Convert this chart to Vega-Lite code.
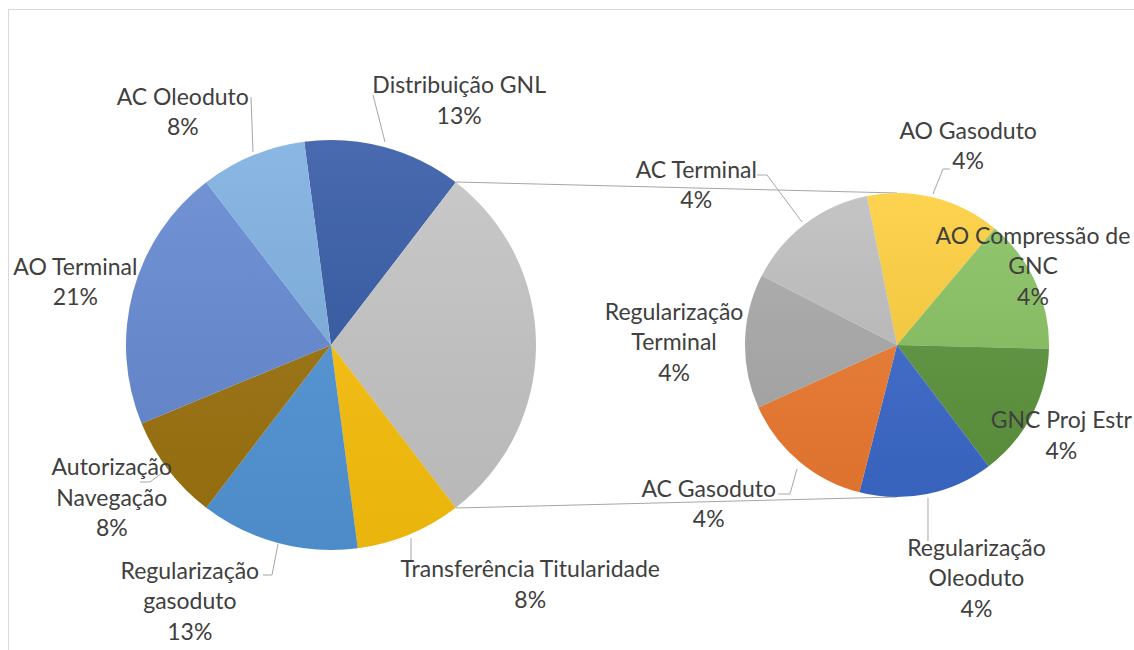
{
  "$schema": "https://vega.github.io/schema/vega-lite/v6.json",
  "width": 1212,
  "height": 672,
  "autosize": "none",
  "padding": {"left": 8, "top": 9, "right": 0, "bottom": 0},
  "background": "white",
  "config": {
    "view": {"stroke": "#D9D9D9", "fill": "white"},
    "text": {"font": "Lato", "fontSize": 23, "color": "#404040", "lineHeight": 30.5},
    "rule": {"color": "#A6A6A6", "strokeWidth": 1}
  },
  "datasets": {
    "principal": [
      {"grafico": "Principal", "categoria": "Distribuição GNL", "quantidade": 3, "ordem": 1, "rotulo": "Distribuição GNL\n13%"},
      {"grafico": "Principal", "categoria": "Outros", "quantidade": 7, "ordem": 2, "rotulo": ""},
      {"grafico": "Principal", "categoria": "Transferência Titularidade", "quantidade": 2, "ordem": 3, "rotulo": "Transferência Titularidade\n8%"},
      {"grafico": "Principal", "categoria": "Regularização gasoduto", "quantidade": 3, "ordem": 4, "rotulo": "Regularização\ngasoduto\n13%"},
      {"grafico": "Principal", "categoria": "Autorização Navegação", "quantidade": 2, "ordem": 5, "rotulo": "Autorização\nNavegação\n8%"},
      {"grafico": "Principal", "categoria": "AO Terminal", "quantidade": 5, "ordem": 6, "rotulo": "AO Terminal\n21%"},
      {"grafico": "Principal", "categoria": "AC Oleoduto", "quantidade": 2, "ordem": 7, "rotulo": "AC Oleoduto\n8%"}
    ],
    "secundario": [
      {"grafico": "Secundário", "categoria": "AO Gasoduto", "quantidade": 1, "ordem": 1, "rotulo": "AO Gasoduto\n4%"},
      {"grafico": "Secundário", "categoria": "AO Compressão de GNC", "quantidade": 1, "ordem": 2, "rotulo": "AO Compressão de\nGNC\n4%"},
      {"grafico": "Secundário", "categoria": "GNC Proj Estr", "quantidade": 1, "ordem": 3, "rotulo": "GNC Proj Estr\n4%"},
      {"grafico": "Secundário", "categoria": "Regularização Oleoduto", "quantidade": 1, "ordem": 4, "rotulo": "Regularização\nOleoduto\n4%"},
      {"grafico": "Secundário", "categoria": "AC Gasoduto", "quantidade": 1, "ordem": 5, "rotulo": "AC Gasoduto\n4%"},
      {"grafico": "Secundário", "categoria": "Regularização Terminal", "quantidade": 1, "ordem": 6, "rotulo": "Regularização\nTerminal\n4%"},
      {"grafico": "Secundário", "categoria": "AC Terminal", "quantidade": 1, "ordem": 7, "rotulo": "AC Terminal\n4%"}
    ],
    "conectores": [
      {"de": "Principal", "para": "Secundário", "lado": "topo"},
      {"de": "Principal", "para": "Secundário", "lado": "base"}
    ]
  },
  "encoding": {
    "x": {
      "field": "grafico",
      "type": "nominal",
      "axis": null,
      "scale": {"type": "point", "padding": 0.5707, "domain": ["Principal", "Secundário"]}
    }
  },
  "resolve": {"scale": {"theta": "independent"}},
  "layer": [
    {
      "data": {"name": "principal"},
      "layer": [
        {
          "mark": {"type": "arc", "outerRadius": 205},
          "encoding": {
            "theta": {"field": "quantidade", "type": "quantitative", "stack": true, "scale": {"range": [-0.1309, 6.1523]}},
            "order": {"field": "ordem", "type": "quantitative"},
            "color": {
              "field": "categoria",
              "type": "nominal",
              "legend": null,
              "scale": {
                "domain": ["Distribuição GNL", "Outros", "Transferência Titularidade", "Regularização gasoduto", "Autorização Navegação", "AO Terminal", "AC Oleoduto", "AO Gasoduto", "AO Compressão de GNC", "GNC Proj Estr", "Regularização Oleoduto", "AC Gasoduto", "Regularização Terminal", "AC Terminal"],
                "range": ["#3459A5", "#C5C5C5", "#FBC20C", "#5296D8", "#9D730F", "#6589D2", "#7DAFE0", "#FDCE3C", "#88C161", "#5D953D", "#3C6ACB", "#EE7B31", "#AAAAAA", "#BEBEBE"]
              }
            }
          }
        },
        {
          "transform": [{"aggregate": [{"op": "sum", "field": "quantidade", "as": "total"}], "groupby": ["grafico"]}],
          "mark": {
            "type": "arc",
            "outerRadius": 205,
            "fill": {"gradient": "linear", "x1": 0, "y1": 0, "x2": 0, "y2": 1, "stops": [{"offset": 0, "color": "rgba(255,255,255,0.10)"}, {"offset": 1, "color": "rgba(0,0,0,0.07)"}]}
          },
          "encoding": {
            "theta": {"field": "total", "type": "quantitative", "stack": true, "scale": {"range": [-0.1309, 6.1523]}}
          }
        },
        {
          "transform": [{"filter": "indexof(['Distribuição GNL','AC Oleoduto','Autorização Navegação','Regularização gasoduto','Transferência Titularidade'], datum.categoria) >= 0"}],
          "mark": {
            "type": "rule",
            "xOffset": {"expr": "datum.categoria === 'Distribuição GNL' ? 42 : datum.categoria === 'AC Oleoduto' ? -80 : datum.categoria === 'Autorização Navegação' ? -181 : datum.categoria === 'Regularização gasoduto' ? -59 : 80"},
            "yOffset": {"expr": "datum.categoria === 'Distribuição GNL' ? -250 : datum.categoria === 'AC Oleoduto' ? -248 : datum.categoria === 'Autorização Navegação' ? 137 : datum.categoria === 'Regularização gasoduto' ? 230 : 215"},
            "x2Offset": {"expr": "datum.categoria === 'Distribuição GNL' ? 54 : datum.categoria === 'AC Oleoduto' ? -78 : datum.categoria === 'Autorização Navegação' ? -169 : datum.categoria === 'Regularização gasoduto' ? -53 : 80"},
            "y2Offset": {"expr": "datum.categoria === 'Distribuição GNL' ? -203 : datum.categoria === 'AC Oleoduto' ? -193 : datum.categoria === 'Autorização Navegação' ? 128 : datum.categoria === 'Regularização gasoduto' ? 199 : 193"}
          },
          "encoding": {
            "x2": {"field": "grafico"},
            "y": {"datum": 0, "type": "quantitative", "axis": null, "scale": {"domain": [-1, 1]}},
            "y2": {"datum": 0}
          }
        },
        {
          "transform": [{"filter": "indexof(['Autorização Navegação','Regularização gasoduto'], datum.categoria) >= 0"}],
          "mark": {
            "type": "rule",
            "xOffset": {"expr": "datum.categoria === 'Autorização Navegação' ? -191 : -68"},
            "yOffset": {"expr": "datum.categoria === 'Autorização Navegação' ? 137 : 230"},
            "x2Offset": {"expr": "datum.categoria === 'Autorização Navegação' ? -181 : -59"},
            "y2Offset": {"expr": "datum.categoria === 'Autorização Navegação' ? 137 : 230"}
          },
          "encoding": {
            "x2": {"field": "grafico"},
            "y": {"datum": 0, "type": "quantitative", "axis": null, "scale": {"domain": [-1, 1]}},
            "y2": {"datum": 0}
          }
        },
        {
          "mark": {
            "type": "text",
            "radius": 275,
            "lineBreak": "\n",
            "align": "center",
            "baseline": "middle",
            "dx": {"expr": "datum.categoria === 'Distribuição GNL' ? 57 : datum.categoria === 'Transferência Titularidade' ? 94 : datum.categoria === 'Regularização gasoduto' ? -70 : datum.categoria === 'Autorização Navegação' ? -1 : datum.categoria === 'AO Terminal' ? 10 : datum.categoria === 'AC Oleoduto' ? -43 : 0"},
            "dy": {"expr": "datum.categoria === 'Distribuição GNL' ? 7 : datum.categoria === 'Transferência Titularidade' ? -29 : datum.categoria === 'Regularização gasoduto' ? -39 : datum.categoria === 'Autorização Navegação' ? -44 : datum.categoria === 'AO Terminal' ? -6 : datum.categoria === 'AC Oleoduto' ? 7 : 0"}
          },
          "encoding": {
            "theta": {"field": "quantidade", "type": "quantitative", "stack": true, "scale": {"range": [-0.1309, 6.1523]}},
            "order": {"field": "ordem", "type": "quantitative"},
            "text": {"field": "rotulo", "type": "nominal"}
          }
        }
      ]
    },
    {
      "data": {"name": "conectores"},
      "mark": {
        "type": "rule",
        "xOffset": 125,
        "yOffset": {"expr": "datum.lado === 'topo' ? -163 : 163"},
        "x2Offset": 0,
        "y2Offset": {"expr": "datum.lado === 'topo' ? -152 : 152"}
      },
      "encoding": {
        "x": {"field": "de", "type": "nominal"},
        "x2": {"field": "para"},
        "y": {"datum": 0, "type": "quantitative", "axis": null, "scale": {"domain": [-1, 1]}},
        "y2": {"datum": 0}
      }
    },
    {
      "data": {"name": "secundario"},
      "layer": [
        {
          "mark": {"type": "arc", "outerRadius": 152},
          "encoding": {
            "theta": {"field": "quantidade", "type": "quantitative", "stack": true, "scale": {"range": [-0.199, 6.0842]}},
            "order": {"field": "ordem", "type": "quantitative"},
            "color": {
              "field": "categoria",
              "type": "nominal",
              "legend": null,
              "scale": {
                "domain": ["Distribuição GNL", "Outros", "Transferência Titularidade", "Regularização gasoduto", "Autorização Navegação", "AO Terminal", "AC Oleoduto", "AO Gasoduto", "AO Compressão de GNC", "GNC Proj Estr", "Regularização Oleoduto", "AC Gasoduto", "Regularização Terminal", "AC Terminal"],
                "range": ["#3459A5", "#C5C5C5", "#FBC20C", "#5296D8", "#9D730F", "#6589D2", "#7DAFE0", "#FDCE3C", "#88C161", "#5D953D", "#3C6ACB", "#EE7B31", "#AAAAAA", "#BEBEBE"]
              }
            }
          }
        },
        {
          "transform": [{"aggregate": [{"op": "sum", "field": "quantidade", "as": "total"}], "groupby": ["grafico"]}],
          "mark": {
            "type": "arc",
            "outerRadius": 152,
            "fill": {"gradient": "linear", "x1": 0, "y1": 0, "x2": 0, "y2": 1, "stops": [{"offset": 0, "color": "rgba(255,255,255,0.10)"}, {"offset": 1, "color": "rgba(0,0,0,0.07)"}]}
          },
          "encoding": {
            "theta": {"field": "total", "type": "quantitative", "stack": true, "scale": {"range": [-0.199, 6.0842]}}
          }
        },
        {
          "transform": [{"filter": "indexof(['AC Terminal','AO Gasoduto','AC Gasoduto','Regularização Oleoduto'], datum.categoria) >= 0"}],
          "mark": {
            "type": "rule",
            "xOffset": {"expr": "datum.categoria === 'AC Terminal' ? -130 : datum.categoria === 'AO Gasoduto' ? 46 : datum.categoria === 'AC Gasoduto' ? -107 : 31"},
            "yOffset": {"expr": "datum.categoria === 'AC Terminal' ? -170 : datum.categoria === 'AO Gasoduto' ? -176 : datum.categoria === 'AC Gasoduto' ? 149 : 196"},
            "x2Offset": {"expr": "datum.categoria === 'AC Terminal' ? -95 : datum.categoria === 'AO Gasoduto' ? 36 : datum.categoria === 'AC Gasoduto' ? -100 : 31"},
            "y2Offset": {"expr": "datum.categoria === 'AC Terminal' ? -123 : datum.categoria === 'AO Gasoduto' ? -151 : datum.categoria === 'AC Gasoduto' ? 124 : 153"}
          },
          "encoding": {
            "x2": {"field": "grafico"},
            "y": {"datum": 0, "type": "quantitative", "axis": null, "scale": {"domain": [-1, 1]}},
            "y2": {"datum": 0}
          }
        },
        {
          "transform": [{"filter": "indexof(['AC Terminal','AO Gasoduto','AC Gasoduto'], datum.categoria) >= 0"}],
          "mark": {
            "type": "rule",
            "xOffset": {"expr": "datum.categoria === 'AC Terminal' ? -140 : datum.categoria === 'AO Gasoduto' ? 53 : -119"},
            "yOffset": {"expr": "datum.categoria === 'AC Terminal' ? -170 : datum.categoria === 'AO Gasoduto' ? -176 : 149"},
            "x2Offset": {"expr": "datum.categoria === 'AC Terminal' ? -130 : datum.categoria === 'AO Gasoduto' ? 46 : -107"},
            "y2Offset": {"expr": "datum.categoria === 'AC Terminal' ? -170 : datum.categoria === 'AO Gasoduto' ? -176 : 149"}
          },
          "encoding": {
            "x2": {"field": "grafico"},
            "y": {"datum": 0, "type": "quantitative", "axis": null, "scale": {"domain": [-1, 1]}},
            "y2": {"datum": 0}
          }
        },
        {
          "mark": {
            "type": "text",
            "radius": 215,
            "lineBreak": "\n",
            "align": "center",
            "baseline": "middle",
            "dx": {"expr": "datum.categoria === 'AO Gasoduto' ? 18 : datum.categoria === 'AO Compressão de GNC' ? -60 : datum.categoria === 'GNC Proj Estr' ? -27 : datum.categoria === 'Regularização Oleoduto' ? 37 : datum.categoria === 'AC Gasoduto' ? -50 : datum.categoria === 'Regularização Terminal' ? -8 : datum.categoria === 'AC Terminal' ? -71 : 0"},
            "dy": {"expr": "datum.categoria === 'AO Gasoduto' ? -5 : datum.categoria === 'AO Compressão de GNC' ? -20 : datum.categoria === 'GNC Proj Estr' ? -22 : datum.categoria === 'Regularização Oleoduto' ? -7 : datum.categoria === 'AC Gasoduto' ? -20 : datum.categoria === 'Regularização Terminal' ? -27 : datum.categoria === 'AC Terminal' ? -3 : 0"}
          },
          "encoding": {
            "theta": {"field": "quantidade", "type": "quantitative", "stack": true, "scale": {"range": [-0.199, 6.0842]}},
            "order": {"field": "ordem", "type": "quantitative"},
            "text": {"field": "rotulo", "type": "nominal"}
          }
        }
      ]
    }
  ]
}
